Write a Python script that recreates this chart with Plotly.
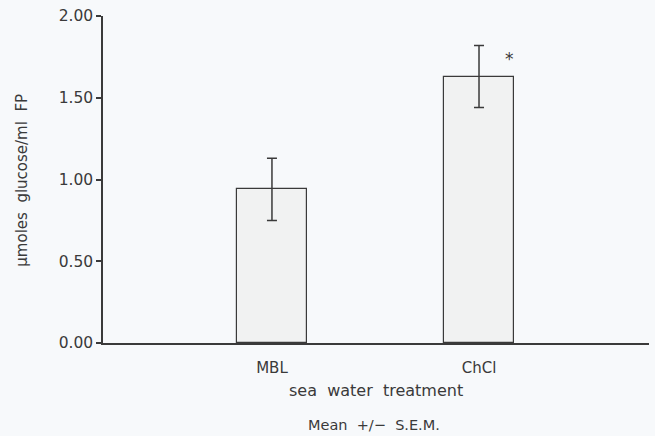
import plotly.graph_objects as go

categories = ["MBL", "ChCl"]
x_pos = [1, 2]
means = [0.94, 1.63]
sems = [0.19, 0.19]
sig_marks = ["", "*"]
y_ticks = [0, 0.5, 1.0, 1.5, 2.0]

ink = "#3a3a3a"
font_family = "DejaVu Sans"
sp = "\u00a0 "

fig = go.Figure()
fig.add_trace(go.Bar(
    x=x_pos, y=means, width=0.338,
    marker=dict(color="#f1f2f2", line=dict(color=ink, width=1.2)),
    error_y=dict(type="data", array=sems, visible=True, color=ink, thickness=1.5, width=5),
    showlegend=False,
))

for xp, m, s, mark in zip(x_pos, means, sems, sig_marks):
    if mark:
        fig.add_annotation(x=xp + 0.145, y=m + s * 0.55, text=mark, showarrow=False,
                           font=dict(size=17, color=ink, family=font_family))

fig.add_annotation(xref="paper", yref="paper", x=0.5, y=-0.145, xanchor="center", yanchor="middle",
                   text=sp.join(["sea", "water", "treatment"]),
                   showarrow=False, font=dict(size=16, color=ink, family=font_family))
fig.add_annotation(xref="paper", yref="paper", x=0.497, y=-0.252, xanchor="center", yanchor="middle",
                   text=sp.join(["Mean", "+/\u2212", "S.E.M."]),
                   showarrow=False, font=dict(size=14.5, color=ink, family=font_family))
fig.add_annotation(xref="paper", yref="paper", x=-0.148, y=0.497, xanchor="center", yanchor="middle",
                   text=sp.join(["\u03bcmoles", "glucose/ml", "FP"]),
                   textangle=-90, showarrow=False, font=dict(size=15, color=ink, family=font_family))

fig.update_layout(
    width=655, height=436,
    margin=dict(l=103, r=6, t=16, b=92.5),
    paper_bgcolor="#f7f9fb", plot_bgcolor="#f7f9fb",
    font=dict(family=font_family, size=14, color=ink),
    bargap=0,
)
fig.update_xaxes(
    range=[0.184, 2.821], tickvals=x_pos, ticktext=categories,
    showline=True, linecolor=ink, linewidth=1.5, ticks="", showgrid=False, zeroline=False,
    ticklabelstandoff=10, tickfont=dict(size=15),
)
fig.update_yaxes(
    range=[0, 2.0], tickvals=y_ticks, tickformat=".2f",
    showline=True, linecolor=ink, linewidth=1.5, ticks="outside", ticklen=5, tickwidth=1.5,
    tickcolor=ink, showgrid=False, zeroline=False, tickfont=dict(size=15.5),
)

fig.write_html("out.html", config={"displayModeBar": False},
               post_script="document.body.style.margin='0';document.body.style.overflow='hidden';")
